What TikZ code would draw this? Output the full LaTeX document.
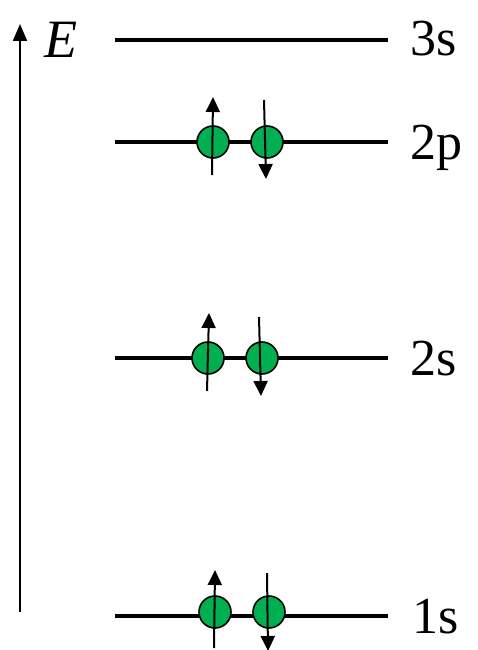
\documentclass[tikz,border=0pt]{standalone}
\usepackage{fontspec}
\setmainfont{Liberation Serif}
\newfontfamily\tnr{Liberation Serif}
\usetikzlibrary{arrows.meta}
\definecolor{egreen}{HTML}{00B050}
\begin{document}
\begin{tikzpicture}[x=1pt,y=-1pt,
  level/.style={line width=4pt},
  lbl/.style={anchor=base west,inner sep=0pt,font=\tnr\fontsize{52}{56}\selectfont},
  elec/.style={circle,draw=black,line width=1.6pt,fill=egreen,minimum size=32pt,inner sep=0pt},
  spin/.style={line width=2pt,-{Triangle[length=15pt,width=14pt]}}]
\useasboundingbox (0,0) rectangle (477,650);
% axis
\coordinate (ax0) at (20,612);
\coordinate (ax1) at (20,24);
\draw[line width=2pt,-{Triangle[length=17pt,width=14pt]}] (ax0) -- (ax1);
\node[anchor=base west,inner sep=0pt,font=\tnr\fontsize{54}{58}\selectfont\itshape] (E) at (44,58) {E};
% levels
\coordinate (l3a) at (115,40); \coordinate (l3b) at (388,40);
\coordinate (l2pa) at (115,142); \coordinate (l2pb) at (388,142);
\coordinate (l2sa) at (115,358); \coordinate (l2sb) at (388,358);
\coordinate (l1a) at (115,616); \coordinate (l1b) at (388,616);
\draw[level] (l3a) -- (l3b);
\draw[level] (l2pa) -- (l2pb);
\draw[level] (l2sa) -- (l2sb);
\draw[level] (l1a) -- (l1b);
\node[lbl] (t3s) at (410,56) {3s};
\node[lbl] (t2p) at (410,159) {2p};
\node[lbl] (t2s) at (410,375) {2s};
\node[lbl] (t1s) at (412,633) {1s};
% 2p electrons
\node[elec] (p1) at (213,142) {};
\node[elec] (p2) at (267,142) {};
\coordinate (p1a) at (212,175); \coordinate (p1b) at (213,97);
\coordinate (p2a) at (264,100); \coordinate (p2b) at (266,179);
\draw[spin] (p1a) -- (p1b);
\draw[spin] (p2a) -- (p2b);
% 2s electrons
\node[elec] (s1) at (208,358) {};
\node[elec] (s2) at (262,358) {};
\coordinate (s1a) at (207,391); \coordinate (s1b) at (209,313);
\coordinate (s2a) at (259,317); \coordinate (s2b) at (261,396);
\draw[spin] (s1a) -- (s1b);
\draw[spin] (s2a) -- (s2b);
% 1s electrons
\node[elec] (a1) at (215,612) {};
\node[elec] (a2) at (269,612) {};
\coordinate (a1a) at (214,648); \coordinate (a1b) at (215,570);
\coordinate (a2a) at (267,573); \coordinate (a2b) at (268,651);
\draw[spin] (a1a) -- (a1b);
\draw[spin] (a2a) -- (a2b);
\end{tikzpicture}
\end{document}
